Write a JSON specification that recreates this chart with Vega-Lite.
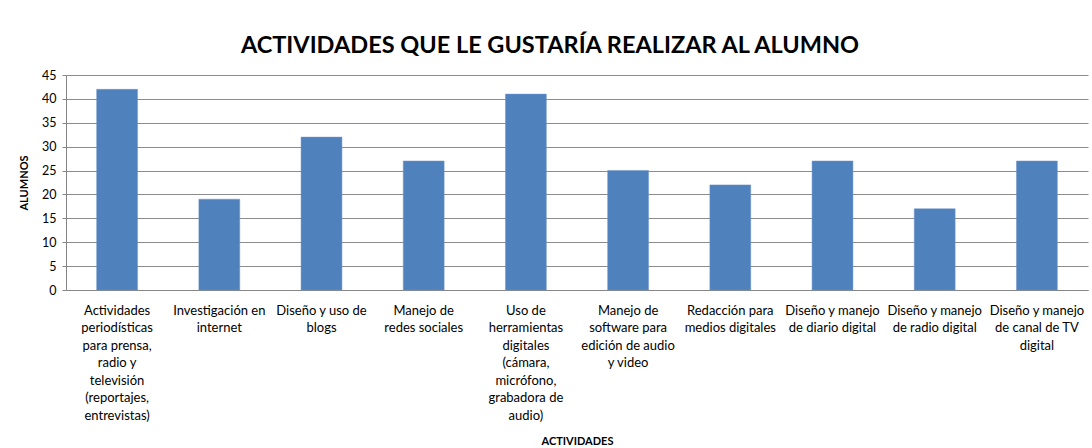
{
  "$schema": "https://vega.github.io/schema/vega-lite/v6.json",
  "autosize": {"type": "none"},
  "width": 1022,
  "height": 215,
  "padding": {"left": 66, "top": 75, "right": 4, "bottom": 158},
  "background": "white",
  "title": {
    "text": "ACTIVIDADES QUE LE GUSTARÍA REALIZAR AL ALUMNO",
    "font": "Lato",
    "fontSize": 23.5,
    "fontWeight": "bold",
    "color": "#000000",
    "anchor": "middle",
    "dx": -27,
    "offset": 12
  },
  "data": {
    "values": [
      {"actividad": "Actividades|periodísticas|para prensa,|radio  y|televisión|(reportajes,|entrevistas)", "alumnos": 42},
      {"actividad": "Investigación en|internet", "alumnos": 19},
      {"actividad": "Diseño y uso de|blogs", "alumnos": 32},
      {"actividad": "Manejo de|redes sociales", "alumnos": 27},
      {"actividad": "Uso de|herramientas|digitales|(cámara,|micrófono,|grabadora de|audio)", "alumnos": 41},
      {"actividad": "Manejo de|software para|edición de audio|y video", "alumnos": 25},
      {"actividad": "Redacción para|medios digitales", "alumnos": 22},
      {"actividad": "Diseño y manejo|de diario digital", "alumnos": 27},
      {"actividad": "Diseño y manejo|de radio digital", "alumnos": 17},
      {"actividad": "Diseño y manejo|de canal de TV|digital", "alumnos": 27}
    ]
  },
  "mark": {"type": "bar", "color": "#4F81BD", "stroke": "#6E95C8", "strokeWidth": 0.5},
  "encoding": {
    "x": {
      "field": "actividad",
      "type": "nominal",
      "sort": null,
      "scale": {"paddingInner": 0.6, "paddingOuter": 0.3},
      "axis": {
        "title": "ACTIVIDADES",
        "titleFont": "Lato",
        "titleFontSize": 11,
        "titleFontWeight": "bold",
        "titleColor": "#000000",
        "titlePadding": 13,
        "labelAngle": 0,
        "labelExpr": "split(datum.label, '|')",
        "labelFont": "Lato",
        "labelFontSize": 13,
        "labelColor": "#000000",
        "labelLineHeight": 17.5,
        "labelPadding": 14,
        "labelOverlap": false,
        "labelBound": false,
        "labelLimit": 0,
        "ticks": false,
        "domainColor": "#868686",
        "domainWidth": 1
      }
    },
    "y": {
      "field": "alumnos",
      "type": "quantitative",
      "scale": {"domain": [0, 45]},
      "axis": {
        "title": "ALUMNOS",
        "titleFont": "Lato",
        "titleFontSize": 11,
        "titleFontWeight": "bold",
        "titleColor": "#000000",
        "titlePadding": 12,
        "values": [0, 5, 10, 15, 20, 25, 30, 35, 40, 45],
        "labelFont": "Lato",
        "labelFontSize": 12.5,
        "labelColor": "#000000",
        "labelPadding": 6,
        "tickSize": 4,
        "tickColor": "#868686",
        "domainColor": "#868686",
        "gridColor": "#8c8c8c",
        "gridWidth": 1
      }
    }
  },
  "config": {
    "view": {"stroke": null}
  }
}
